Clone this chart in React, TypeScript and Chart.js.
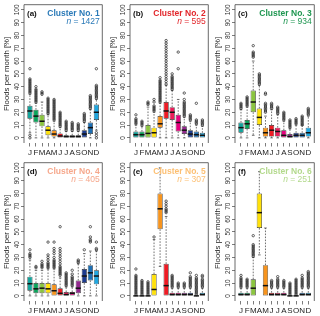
import React, { useEffect, useRef } from 'react';
import { Chart, registerables } from 'chart.js';
Chart.register(...registerables);
Chart.defaults.font.family = '"Liberation Sans", Arial, sans-serif';

const monthNums = [1, 2, 3, 4, 5, 6, 7, 8, 9, 10, 11, 12];
const monthLetters = ['J', 'F', 'M', 'A', 'M', 'J', 'J', 'A', 'S', 'O', 'N', 'D'];
const monthColors = ['#13A39B', '#0AA35A', '#8BC53F', '#FFE10A', '#F7941D', '#EE1C25', '#EC1C5A', '#E5007D', '#93278F', '#1D3C8F', '#1C6FB5', '#20A7E0'];
const yTicks = [0, 10, 20, 30, 40, 50, 60, 70, 80, 90, 100];

// Cluster 1
const c1Low = [4, 0, 0, 0, 0, 0, 0, 0, 0, 0, 0, 6];
const c1Q1 = [15, 12, 9, 2, 1, 0, 0, 0, 0, 0, 3, 14];
const c1Med = [21, 17, 13, 6, 3, 1.5, 1, 1, 1, 3, 8, 20];
const c1Q3 = [25, 22, 18, 9, 6, 3.5, 2, 2, 2, 6, 12, 26];
const c1High = [34, 27, 28, 18, 13, 8, 5, 5, 5, 12, 22, 30];
const c1Out = [
  [35, 36, 37, 38, 39, 40, 41, 42, 43, 44, 45, 46, 54, 2, 0],
  [28, 29, 30, 31, 32, 33, 34, 35, 36, 37, 38, 40],
  [34, 35, 36],
  [19, 20, 21, 22, 23, 24, 25, 26, 27, 28, 29, 30, 31],
  [14, 15, 16, 17, 18, 19, 20, 21, 22, 23, 24, 25, 26, 27, 28, 29, 30],
  [9, 10, 11, 12, 13, 14, 15, 16, 17, 18, 19, 20],
  [6, 7, 8, 9, 10, 11, 12, 13],
  [6, 7, 8, 9, 10, 11, 12],
  [6, 7, 8, 9, 10, 11],
  [13, 14, 15, 16, 17, 18, 19],
  [23, 24, 25, 26, 27, 28, 29, 30, 31, 32, 33],
  [31, 32, 33, 34, 35, 36, 37, 38, 39, 40, 41, 54, 4, 2, 0],
];

// Cluster 2
const c2Low = [0, 0, 0, 0, 0, 0, 0, 0, 0, 0, 0, 0];
const c2Q1 = [0, 0, 0, 0, 8, 15, 14, 5, 3, 0, 0, 0];
const c2Med = [2.5, 2.5, 3.5, 4, 11, 21, 20, 12, 6, 3, 2.5, 2];
const c2Q3 = [5, 5, 10, 8, 17, 28, 24, 18, 9, 6, 5, 4];
const c2High = [10, 9, 24, 20, 27, 41, 37, 30, 16, 13, 10, 9];
const c2Out = [
  [11, 12, 13, 14, 15, 18],
  [10, 11, 12, 13],
  [26, 27, 28],
  [21, 22, 23, 24, 25, 28, 30],
  [28, 29, 30, 31, 32, 33, 34, 35, 36, 37, 38, 39, 40, 41, 42, 43, 44, 45, 47],
  [42, 44, 46, 48, 50, 52, 54, 56, 58, 60, 62, 64, 66, 68, 70, 72, 74, 76],
  [38, 39, 40, 41, 42, 43, 44, 45, 46, 47, 48, 50],
  [54, 67],
  [17, 18, 19, 20, 21, 22, 23, 24, 25, 26, 27, 28, 30, 35],
  [14, 15, 16, 17, 18],
  [11, 12, 13, 14, 27],
  [10, 11, 12, 13, 14],
];

// Cluster 3
const c3Low = [0, 0, 2, 0, 0, 0, 0, 0, 0, 0, 0, 0];
const c3Q1 = [4, 7, 20, 10, 1, 1, 1, 0, 0, 0, 0, 1];
const c3Med = [8, 11, 28, 16, 4, 6, 5, 2, 1, 2, 2, 4];
const c3Q3 = [12, 14, 37, 23, 8, 10, 8, 6, 3, 4, 4, 8];
const c3High = [22, 24, 60, 41, 17, 22, 18, 13, 7, 10, 10, 17];
const c3Out = [
  [23, 24, 25, 26, 27],
  [25, 26, 27, 28, 29, 30, 31, 32],
  [63, 64, 65, 66, 67, 72],
  [42, 43, 44, 45, 46, 47, 48, 49, 50],
  [20, 21, 22, 23, 24, 25, 26, 27, 34, 35],
  [23, 24, 25, 26, 27],
  [19, 20, 21, 22, 23, 24],
  [14, 15, 16, 17, 18, 19, 20],
  [8, 9, 10, 11, 12, 13, 14],
  [11, 12, 13, 14, 15],
  [10, 11, 12, 13, 14, 15, 16, 17],
  [18, 19, 20, 21, 22, 23],
];

// Cluster 4
const c4Low = [0, 0, 0, 0, 0, 0, 0, 0, 0, 0, 0, 0];
const c4Q1 = [4, 2, 2, 2, 0, 0, 0, 0, 2, 10, 12, 9];
const c4Med = [9.5, 5.5, 6, 5.5, 4, 2, 1, 2, 6, 15.5, 18, 15.5];
const c4Q3 = [15, 10, 10, 10, 9, 6, 3, 3, 12, 21, 24, 20];
const c4High = [28, 20, 20, 21, 21, 14, 7, 7, 25, 33, 35, 35];
const c4Out = [
  [30, 31, 32, 33, 36],
  [22, 23],
  [22, 23, 24, 25, 27],
  [22, 23, 24, 25, 26, 28, 30, 32, 42],
  [22, 23, 24, 25, 26, 27, 28, 30, 33, 35, 37, 42],
  [16, 17, 18, 19, 20, 21, 22, 23, 25, 27, 29, 31, 33, 35, 37, 54],
  [8, 9, 10, 11, 12, 13, 14, 15, 16, 17, 18],
  [8, 9, 10, 11, 12, 13, 14, 15, 17, 20],
  [26, 27, 28],
  [36],
  [42, 43, 44, 46, 54],
  [36, 37, 42],
];

// Cluster 5
const c5Low = [0, 0, 0, 0, 23, 0, 0, 0, 0, 0, 0, 0];
const c5Q1 = [0, 0, 0, 0, 52, 0, 0, 0, 0, 0, 0, 0];
const c5Med = [0, 0, 0, 5, 68, 8, 1, 1, 1, 1, 0, 1];
const c5Q3 = [0, 0, 0, 17, 80, 25, 2.5, 2.5, 2.5, 2.5, 0, 2.5];
const c5High = [0, 0, 0, 44, 100, 62, 6, 6, 6, 6, 0, 6];
const c5Out = [
  [1, 2, 3, 4, 5, 6, 7, 8, 9, 10, 11, 12, 13, 14, 15, 16, 21],
  [1, 2, 3, 4, 5, 6, 7, 8, 9, 10, 11, 12],
  [1, 2, 3, 4, 5, 6, 7, 8, 9, 10, 11],
  [46],
  [],
  [65, 66, 67, 68, 70, 72, 74],
  [7, 8, 9, 10, 11, 12, 13, 14, 15, 16],
  [7, 8, 9, 10],
  [7, 8, 9, 10],
  [7, 8, 9, 10, 11, 12, 13, 14, 15, 18],
  [1, 2, 3, 4, 5, 6, 7, 8, 9, 10, 11, 12, 13, 14, 16],
  [7, 8, 9, 10, 11, 12, 13, 15, 16],
];

// Cluster 6
const c6Low = [0, 0, 0, 32, 0, 0, 0, 0, 0, 0, 0, 0];
const c6Q1 = [0, 0, 0, 53, 0, 0, 0, 0, 0, 0, 0, 0];
const c6Med = [1, 1, 6, 65, 8, 1, 1, 1, 0, 0, 1, 1];
const c6Q3 = [2.5, 2.5, 13, 80, 24, 2.5, 2.5, 2.5, 0, 0, 2.5, 2.5];
const c6High = [6, 6, 30, 97, 53, 6, 6, 6, 0, 0, 6, 6];
const c6Out = [
  [7, 8, 9, 10, 11, 12, 13, 14, 16],
  [7, 8, 9, 10, 11, 12, 13],
  [31, 32, 33, 34, 35, 36, 37, 38, 39, 40, 47],
  [],
  [],
  [7, 8, 9, 10, 11, 12],
  [7, 8, 9, 10, 11, 12, 13, 15],
  [7, 8, 9, 10, 11, 12],
  [1, 2, 3, 4, 5, 6, 7, 8, 9, 10],
  [1, 2, 3, 4, 5, 6, 7, 8, 9, 10, 11, 12, 13],
  [7, 8, 9, 10, 11, 12, 13, 14, 16],
  [7, 8, 9, 10, 11, 12, 13, 14, 15, 16, 17, 18, 19],
];

const panelTags = ['(a)', '(b)', '(c)', '(d)', '(e)', '(f)'];
const panelTitles = ['Cluster No. 1', 'Cluster No. 2', 'Cluster No. 3', 'Cluster No. 4', 'Cluster No. 5', 'Cluster No. 6'];
const panelN = ['1427', '595', '934', '405', '307', '251'];
const panelColors = ['#2A7AB8', '#E2262B', '#1E9650', '#F6A88C', '#FCBF72', '#B3D98C'];

const panels = [
  { low: c1Low, q1: c1Q1, med: c1Med, q3: c1Q3, high: c1High, out: c1Out },
  { low: c2Low, q1: c2Q1, med: c2Med, q3: c2Q3, high: c2High, out: c2Out },
  { low: c3Low, q1: c3Q1, med: c3Med, q3: c3Q3, high: c3High, out: c3Out },
  { low: c4Low, q1: c4Q1, med: c4Med, q3: c4Q3, high: c4High, out: c4Out },
  { low: c5Low, q1: c5Q1, med: c5Med, q3: c5Q3, high: c5High, out: c5Out },
  { low: c6Low, q1: c6Q1, med: c6Med, q3: c6Q3, high: c6High, out: c6Out },
];

const colLeft = [0, 106, 211];
const colWidth = [107, 107, 108];
const rowTop = [0, 158];
const rowHeight = 158;
const FONT = '"Liberation Sans", Arial, sans-serif';

function Panel({ idx }: { idx: number }) {
  const ref = useRef<HTMLCanvasElement>(null);
  const col = idx % 3;
  const row = Math.floor(idx / 3);
  const width = colWidth[col];
  const height = rowHeight;
  useEffect(() => {
    const p = panels[idx];
    const outPts: any[] = [];
    p.out.forEach((arr, i) => arr.forEach((v) => outPts.push({ x: monthNums[i], y: v })));

    const boxPlugin = {
      id: 'boxplot' + idx,
      beforeDatasetsDraw(chart: any) {
        const ctx = chart.ctx;
        const yS = chart.scales.y;
        const meta = chart.getDatasetMeta(0);
        ctx.save();
        meta.data.forEach((bar: any, i: number) => {
          const x = bar.x;
          const w = bar.width;
          ctx.strokeStyle = '#333';
          ctx.lineWidth = 0.7;
          ctx.setLineDash([1.6, 1.4]);
          if (p.high[i] > p.q3[i]) {
            ctx.beginPath();
            ctx.moveTo(x, yS.getPixelForValue(p.q3[i]));
            ctx.lineTo(x, yS.getPixelForValue(p.high[i]));
            ctx.stroke();
          }
          if (p.low[i] < p.q1[i]) {
            ctx.beginPath();
            ctx.moveTo(x, yS.getPixelForValue(p.q1[i]));
            ctx.lineTo(x, yS.getPixelForValue(p.low[i]));
            ctx.stroke();
          }
          ctx.setLineDash([]);
          if (p.high[i] > p.q3[i]) {
            const yh = yS.getPixelForValue(p.high[i]);
            ctx.beginPath();
            ctx.moveTo(x - w / 4, yh);
            ctx.lineTo(x + w / 4, yh);
            ctx.stroke();
          }
          if (p.low[i] < p.q1[i]) {
            const yl = yS.getPixelForValue(p.low[i]);
            ctx.beginPath();
            ctx.moveTo(x - w / 4, yl);
            ctx.lineTo(x + w / 4, yl);
            ctx.stroke();
          }
        });
        ctx.restore();
      },
      afterDatasetsDraw(chart: any) {
        const ctx = chart.ctx;
        const yS = chart.scales.y;
        const meta = chart.getDatasetMeta(0);
        ctx.save();
        ctx.strokeStyle = '#111';
        ctx.lineWidth = 1.5;
        meta.data.forEach((bar: any, i: number) => {
          const y = yS.getPixelForValue(p.med[i]);
          ctx.beginPath();
          ctx.moveTo(bar.x - bar.width / 2, y);
          ctx.lineTo(bar.x + bar.width / 2, y);
          ctx.stroke();
        });
        ctx.restore();
      },
      afterDraw(chart: any) {
        const ctx = chart.ctx;
        const a = chart.chartArea;
        const yS = chart.scales.y;
        ctx.save();
        ctx.strokeStyle = '#444';
        ctx.lineWidth = 0.8;
        ctx.beginPath();
        ctx.moveTo(a.left, a.bottom);
        ctx.lineTo(a.left, a.top);
        ctx.lineTo(a.right, a.top);
        ctx.lineTo(a.right, a.bottom);
        ctx.stroke();
        ctx.fillStyle = '#333';
        ctx.font = '6.5px ' + FONT;
        ctx.textAlign = 'center';
        ctx.textBaseline = 'alphabetic';
        yTicks.forEach((v) => {
          const y = yS.getPixelForValue(v);
          ctx.save();
          ctx.translate(a.left - 5.5, y);
          ctx.rotate(-Math.PI / 2);
          ctx.fillText(String(v), 0, 0);
          ctx.restore();
        });
        ctx.fillStyle = '#111';
        ctx.font = 'bold 8px ' + FONT;
        ctx.textAlign = 'left';
        ctx.textBaseline = 'middle';
        ctx.fillText(panelTags[idx], a.left + 3, a.top + 9);
        ctx.fillStyle = panelColors[idx];
        ctx.font = 'bold 8.5px ' + FONT;
        ctx.textAlign = 'right';
        ctx.fillText(panelTitles[idx], a.right - 2.5, a.top + 9);
        const rest = ' = ' + panelN[idx];
        ctx.font = '8.5px ' + FONT;
        ctx.fillText(rest, a.right - 2.5, a.top + 17);
        const w = ctx.measureText(rest).width;
        ctx.font = 'italic 8.5px ' + FONT;
        ctx.fillText('n', a.right - 2.5 - w, a.top + 17);
        ctx.restore();
      },
    };

    const chart = new Chart(ref.current as HTMLCanvasElement, {
      type: 'bar',
      data: {
        datasets: [
          {
            type: 'bar',
            data: p.q1.map((q, i) => ({ x: monthNums[i], y: [q, p.q3[i]] })),
            backgroundColor: monthColors,
            borderColor: '#2a2a2a',
            borderWidth: 0.7,
            borderSkipped: false,
            barPercentage: 0.86,
            categoryPercentage: 1,
          } as any,
          {
            type: 'line',
            data: outPts,
            showLine: false,
            pointStyle: 'circle',
            pointRadius: 1.2,
            pointBorderWidth: 0.7,
            pointBorderColor: '#222',
            pointBackgroundColor: 'rgba(0,0,0,0)',
          } as any,
        ],
      },
      options: {
        animation: false,
        responsive: false,
        events: [],
        layout: { padding: { top: 3, right: 2, left: 0, bottom: 0 } },
        plugins: { legend: { display: false }, tooltip: { enabled: false } },
        scales: {
          x: {
            type: 'linear',
            min: 0.02,
            max: 12.98,
            offset: false,
            afterBuildTicks: (s: any) => { s.ticks = monthNums.map((v) => ({ value: v })); },
            grid: { offset: false, drawOnChartArea: false, drawTicks: true, tickLength: 3.5, color: '#444', lineWidth: 0.7 },
            border: { display: false },
            ticks: {
              callback: (_v: any, i: number) => monthLetters[i],
              font: { size: 8 },
              color: '#222',
              padding: 1.5,
              maxRotation: 0,
              minRotation: 0,
              autoSkip: false,
            },
            afterFit: (s: any) => { s.height = 15; },
          },
          y: {
            min: -4,
            max: 104,
            afterBuildTicks: (s: any) => { s.ticks = yTicks.map((v) => ({ value: v })); },
            grid: { drawOnChartArea: false, drawTicks: true, tickLength: 3, color: '#444', lineWidth: 0.7 },
            border: { display: false },
            ticks: { display: false },
            title: { display: true, text: 'Floods per month [%]', font: { size: 7.8 }, color: '#222', padding: { top: 2, bottom: 0 } },
            afterFit: (s: any) => { s.width = 24; },
          },
        },
      } as any,
      plugins: [boxPlugin],
    });
    return () => chart.destroy();
  }, [idx]);
  return (
    <div style={{ position: 'absolute', left: colLeft[col], top: rowTop[row], width, height }}>
      <canvas ref={ref} width={width} height={height} style={{ width, height, display: 'block' }} />
    </div>
  );
}

export default function App() {
  return (
    <div style={{ position: 'fixed', left: 0, top: 0, width: 320, height: 316, background: '#fff', overflow: 'hidden' }}>
      {[0, 1, 2, 3, 4, 5].map((i) => (
        <Panel key={i} idx={i} />
      ))}
    </div>
  );
}
